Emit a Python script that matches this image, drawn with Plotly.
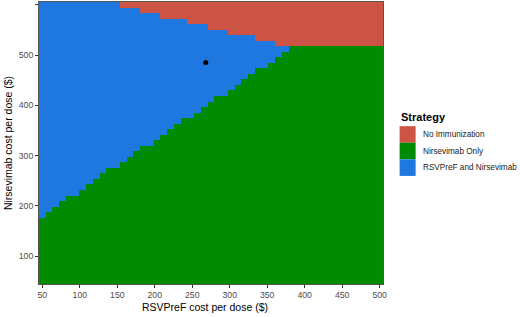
import plotly.graph_objects as go

# RSVPreF cost per dose ($) grid (columns)
rsvpref_cost = [50, 59, 68, 77, 86, 95, 104, 113, 122, 131, 140, 149, 158, 167, 176, 185, 194,
                203, 212, 221, 230, 239, 248, 257, 266, 275, 284, 293, 302, 311, 320, 329, 338,
                347, 356, 365, 374, 383, 392, 401, 410, 419, 428, 437, 446, 455, 464, 473, 482,
                491, 500]
# Nirsevimab cost per dose ($) grid (rows)
nirsevimab_cost = [50, 61, 72, 83, 94, 105, 116, 127, 138, 149, 160, 171, 182, 193, 204, 215, 226,
                   237, 248, 259, 270, 281, 292, 303, 314, 325, 336, 347, 358, 369, 380, 391, 402,
                   413, 424, 435, 446, 457, 468, 479, 490, 501, 512, 523, 534, 545, 556, 567, 578,
                   589, 600]
# highest Nirsevimab cost where "Nirsevimab Only" is optimal, per RSVPreF cost column
nirsevimab_only_max = [171, 182, 193, 204, 215, 215, 226, 237, 248, 259, 270, 270, 281, 292, 303,
                       314, 314, 325, 336, 347, 358, 369, 369, 380, 391, 402, 413, 413, 424, 435,
                       446, 457, 468, 468, 479, 490, 501, 512, 512, 512, 512, 512, 512, 512, 512,
                       512, 512, 512, 512, 512, 512]
# lowest Nirsevimab cost where "No Immunization" is optimal, per column (None = never)
no_immunization_min = [None] * 12 + [600, 600, 600, 589, 589, 589, 578, 578, 578, 578,
                                     567, 567, 567, 556, 556, 556, 545, 545, 545, 545,
                                     534, 534, 534] + [523] * 16

strategies = ["No Immunization", "Nirsevimab Only", "RSVPreF and Nirsevimab"]
colors = ["#CD5345", "#008B00", "#1F77E0"]

# current price point
point_x = [268]
point_y = [485]

z = []
for yv in nirsevimab_cost:
    row = []
    for j, xv in enumerate(rsvpref_cost):
        rmin = no_immunization_min[j]
        if rmin is not None and yv >= rmin:
            row.append(0)
        elif yv <= nirsevimab_only_max[j]:
            row.append(1)
        else:
            row.append(2)
    z.append(row)

fig = go.Figure()
fig.add_trace(go.Heatmap(
    x=rsvpref_cost, y=nirsevimab_cost, z=z,
    colorscale=[[0, colors[0]], [0.5, colors[1]], [1, colors[2]]],
    zmin=0, zmax=2, showscale=False, hoverinfo="skip"))
fig.add_trace(go.Scatter(x=point_x, y=point_y, mode="markers",
                         marker=dict(color="black", size=5), showlegend=False,
                         hoverinfo="skip"))

L, R, T, B = 39, 137.3, 1.7, 33
W, H = 520, 317
pw, ph = W - L - R, H - T - B

def px2paper_x(px):
    return (px - L) / pw

def px2paper_y(py):
    return (H - B - py) / ph

shapes = []
annotations = []
key_x0, key_x1 = 399.3, 415.3
key_tops = [126, 142.6, 159.2]
for i, name in enumerate(strategies):
    shapes.append(dict(type="rect", xref="paper", yref="paper",
                       x0=px2paper_x(key_x0), x1=px2paper_x(key_x1),
                       y0=px2paper_y(key_tops[i] + 16.6), y1=px2paper_y(key_tops[i]),
                       fillcolor=colors[i], line=dict(width=0)))
    annotations.append(dict(xref="paper", yref="paper", x=px2paper_x(420.5),
                            y=px2paper_y(key_tops[i] + 8.3), text=name, showarrow=False,
                            xanchor="left", yanchor="middle",
                            font=dict(size=8.2, color="#1a1a1a")))
annotations.append(dict(xref="paper", yref="paper", x=px2paper_x(399), y=px2paper_y(117),
                        text="<b>Strategy</b>", showarrow=False, xanchor="left",
                        yanchor="middle", font=dict(size=11, color="black")))
annotations.append(dict(xref="paper", yref="paper", x=px2paper_x(205), y=px2paper_y(307),
                        text="RSVPreF cost per dose ($)", showarrow=False, xanchor="center",
                        yanchor="middle", font=dict(size=10.5, color="black")))
annotations.append(dict(xref="paper", yref="paper", x=px2paper_x(8), y=px2paper_y(143),
                        text="Nirsevimab cost per dose ($)", showarrow=False, textangle=-90,
                        xanchor="center", yanchor="middle", font=dict(size=10.5, color="black")))

fig.update_layout(
    width=W, height=H,
    margin=dict(l=L, r=R, t=T, b=B),
    paper_bgcolor="white", plot_bgcolor="white",
    font=dict(family="Liberation Sans, Arial, sans-serif"),
    shapes=shapes, annotations=annotations, showlegend=False,
    xaxis=dict(range=[45.5, 504.5], tickvals=[50, 100, 150, 200, 250, 300, 350, 400, 450, 500],
               ticks="outside", ticklen=3, tickcolor="#333333", showgrid=False, zeroline=False,
               showline=True, linecolor="#555555", linewidth=1, mirror=True,
               tickfont=dict(size=8.7, color="#4D4D4D")),
    yaxis=dict(range=[44.5, 605.5], tickvals=[100, 200, 300, 400, 500, 600],
               ticks="outside", ticklen=3, tickcolor="#333333", showgrid=False, zeroline=False,
               showline=True, linecolor="#555555", linewidth=1, mirror=True,
               tickfont=dict(size=8.7, color="#4D4D4D")),
)

fig.write_html("out.html", config={"displayModeBar": False, "staticPlot": True},
               post_script="document.body.style.margin='0';document.body.style.overflow='hidden';")
